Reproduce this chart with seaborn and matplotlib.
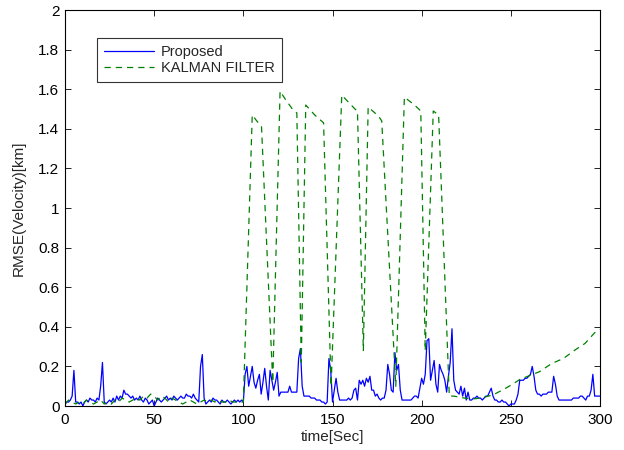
import numpy as np
import pandas as pd
import matplotlib
matplotlib.use("Agg")
import matplotlib.pyplot as plt
import seaborn as sns

# Proposed filter: RMSE of velocity, one sample per second (0..300 s)
proposed_rmse = [
    0.01, 0.02, 0.02, 0.03, 0.05, 0.18, 0.02, 0.02, 0.01, 0.02,
    0.00, 0.02, 0.03, 0.02, 0.04, 0.03, 0.03, 0.02, 0.04, 0.03,
    0.10, 0.22, 0.02, 0.01, 0.02, 0.03, 0.02, 0.04, 0.02, 0.05,
    0.03, 0.05, 0.04, 0.08, 0.06, 0.06, 0.05, 0.04, 0.05, 0.03,
    0.04, 0.03, 0.05, 0.03, 0.02, 0.04, 0.03, 0.01, 0.02, 0.03,
    0.00, 0.02, 0.04, 0.03, 0.02, 0.03, 0.04, 0.05, 0.03, 0.04,
    0.03, 0.05, 0.04, 0.03, 0.04, 0.05, 0.04, 0.04, 0.06, 0.05,
    0.05, 0.04, 0.06, 0.04, 0.03, 0.02, 0.20, 0.26, 0.04, 0.01,
    0.02, 0.03, 0.02, 0.04, 0.03, 0.03, 0.02, 0.01, 0.03, 0.02,
    0.02, 0.03, 0.02, 0.01, 0.02, 0.03, 0.02, 0.03, 0.02, 0.03,
    0.02, 0.16, 0.20, 0.10, 0.15, 0.20, 0.12, 0.09, 0.13, 0.16,
    0.06, 0.12, 0.19, 0.10, 0.03, 0.18, 0.13, 0.08, 0.12, 0.17,
    0.05, 0.07, 0.07, 0.07, 0.07, 0.07, 0.10, 0.07, 0.07, 0.07,
    0.07, 0.24, 0.29, 0.10, 0.05, 0.05, 0.05, 0.05, 0.04, 0.04,
    0.04, 0.03, 0.03, 0.03, 0.02, 0.02, 0.01, 0.02, 0.24, 0.18,
    0.02, 0.08, 0.14, 0.07, 0.03, 0.03, 0.03, 0.03, 0.03, 0.04,
    0.03, 0.04, 0.08, 0.09, 0.03, 0.13, 0.11, 0.13, 0.10, 0.14,
    0.12, 0.15, 0.08, 0.08, 0.05, 0.06, 0.04, 0.03, 0.04, 0.04,
    0.08, 0.21, 0.16, 0.08, 0.07, 0.27, 0.18, 0.21, 0.08, 0.03,
    0.03, 0.03, 0.03, 0.03, 0.03, 0.04, 0.05, 0.05, 0.04, 0.09,
    0.14, 0.11, 0.16, 0.33, 0.34, 0.13, 0.18, 0.23, 0.11, 0.07,
    0.21, 0.18, 0.16, 0.13, 0.07, 0.15, 0.22, 0.39, 0.13, 0.08,
    0.07, 0.06, 0.10, 0.05, 0.09, 0.03, 0.07, 0.03, 0.03, 0.04,
    0.04, 0.05, 0.04, 0.04, 0.03, 0.04, 0.05, 0.05, 0.07, 0.09,
    0.05, 0.03, 0.03, 0.02, 0.02, 0.03, 0.02, 0.02, 0.01, 0.00,
    0.01, 0.01, 0.01, 0.03, 0.06, 0.13, 0.13, 0.13, 0.14, 0.14,
    0.15, 0.16, 0.20, 0.15, 0.08, 0.06, 0.06, 0.05, 0.06, 0.06,
    0.06, 0.07, 0.07, 0.07, 0.15, 0.11, 0.05, 0.03, 0.03, 0.03,
    0.03, 0.03, 0.03, 0.03, 0.03, 0.04, 0.04, 0.04, 0.04, 0.05,
    0.05, 0.04, 0.03, 0.05, 0.05, 0.08, 0.16, 0.05, 0.05, 0.05,
    0.05,
]
proposed_time = list(range(len(proposed_rmse)))

# Kalman filter: RMSE of velocity at its recorded instants
kalman_time = [
    0, 2, 4, 6, 8, 10, 12, 14, 16, 18, 20, 22, 24, 26, 28, 30, 32, 34, 36, 38,
    40, 42, 44, 46, 48, 50, 52, 54, 56, 58, 60, 62, 64, 66, 68, 70, 72, 74, 76,
    78, 80, 82, 84, 86, 88, 90, 92, 94, 96, 98, 100,
    105, 107.5, 110.2, 116.5, 120.6, 123.5, 127.5, 130, 132.5, 135, 140, 145,
    149.2, 155.2, 162.6, 164, 167.3, 170, 175.7, 177.6, 185.5, 190.3, 196,
    199.5, 202, 206.5, 209.5, 215.5, 218, 224, 228, 233, 240, 246, 251, 255,
    266, 273, 279.5, 286, 291.6, 297, 300,
]
kalman_rmse = [
    0.01, 0.03, 0.02, 0.01, 0.02, 0.01, 0.03, 0.02, 0.01, 0.02, 0.03, 0.01,
    0.02, 0.01, 0.03, 0.02, 0.04, 0.03, 0.02, 0.03, 0.04, 0.03, 0.05, 0.04,
    0.06, 0.05, 0.03, 0.05, 0.04, 0.02, 0.04, 0.03, 0.02, 0.01, 0.02, 0.03,
    0.02, 0.01, 0.02, 0.03, 0.02, 0.03, 0.02, 0.03, 0.02, 0.02, 0.03, 0.02,
    0.02, 0.02, 0.02,
    1.47, 1.44, 1.41, 0.12, 1.59, 1.55, 1.50, 1.48, 0.22, 1.52, 1.47, 1.43,
    0.10, 1.57, 1.50, 1.49, 0.28, 1.51, 1.465, 1.44, 0.10, 1.56, 1.52,
    1.49, 0.28, 1.49, 1.47, 0.05, 0.05, 0.04, 0.035, 0.04, 0.056, 0.084,
    0.11, 0.134, 0.173, 0.215, 0.24, 0.283, 0.316, 0.37, 0.385,
]

x_ticks = [0, 50, 100, 150, 200, 250, 300]
y_ticks = [0, 0.2, 0.4, 0.6, 0.8, 1.0, 1.2, 1.4, 1.6, 1.8, 2.0]
y_tick_labels = ["0", "0.2", "0.4", "0.6", "0.8", "1", "1.2", "1.4", "1.6", "1.8", "2"]

df_prop = pd.DataFrame({"time": proposed_time, "rmse": proposed_rmse})
df_kal = pd.DataFrame({"time": kalman_time, "rmse": kalman_rmse})

sns.set_style("white")
plt.rcParams["font.family"] = ["Liberation Sans", "DejaVu Sans"]

fig = plt.figure(figsize=(6.24, 4.5), dpi=100)
ax = fig.add_axes([65 / 624, 1 - 406 / 450, 535 / 624, 396 / 450])

sns.lineplot(data=df_prop, x="time", y="rmse", ax=ax, color="#0000ff",
             linewidth=0.9, label="Proposed", estimator=None, sort=False)
sns.lineplot(data=df_kal, x="time", y="rmse", ax=ax, color="#008000",
             linewidth=0.9, label="KALMAN FILTER", estimator=None, sort=False)
ax.lines[1].set_dashes([5, 4])

ax.set_xlim(0, 300)
ax.set_ylim(0, 2)
ax.set_xticks(x_ticks)
ax.set_yticks(y_ticks)
ax.set_yticklabels(y_tick_labels)
ax.tick_params(direction="in", length=4, width=0.6, labelsize=11,
               top=True, right=True, bottom=True, left=True, colors="black")
ax.tick_params(axis="x", pad=5)
ax.tick_params(axis="y", pad=4)
for s in ax.spines.values():
    s.set_color("black")
    s.set_linewidth(0.8)

ax.set_xlabel("time[Sec]", fontsize=11, labelpad=2)
ax.set_ylabel("RMSE(Velocity)[km]", fontsize=11, labelpad=9)

leg = ax.legend(loc="upper left", bbox_to_anchor=(0.06, 0.93), fontsize=10.5,
                frameon=True, fancybox=False, edgecolor="black",
                handlelength=3.4, borderpad=0.5, borderaxespad=0,
                labelspacing=0.12, handletextpad=0.45)
leg.get_frame().set_linewidth(0.8)
leg.get_lines()[1].set_dashes([5, 4])

fig.savefig("out.png", dpi=100, facecolor="white")
